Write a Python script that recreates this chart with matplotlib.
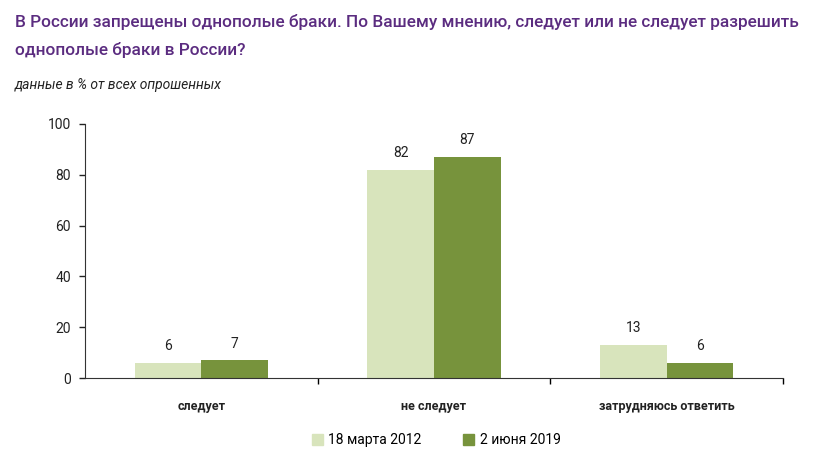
import matplotlib.pyplot as plt
import numpy as np
from matplotlib.patches import Patch

# Data
categories = ['следует', 'не следует', 'затрудняюсь ответить']
series_names = ['18 марта 2012', '2 июня 2019']
values_2012 = [6, 82, 13]
values_2019 = [7, 87, 6]
y_ticks = [0, 20, 40, 60, 80, 100]

light_green = '#d8e4bc'
dark_green = '#77933c'
purple = '#5b2c80'

plt.rcParams['font.family'] = ['Roboto', 'Liberation Sans', 'DejaVu Sans']

fig = plt.figure(figsize=(8.39, 4.75), dpi=100)
ax = fig.add_axes([0.1013, 0.204, 0.832, 0.535])

x = np.arange(len(categories))
width = 0.286
bars1 = ax.bar(x - width / 2, values_2012, width, color=light_green)
bars2 = ax.bar(x + width / 2, values_2019, width, color=dark_green)

# Value labels above bars
for bars in (bars1, bars2):
    for b in bars:
        ax.annotate(str(int(b.get_height())),
                    (b.get_x() + b.get_width() / 2, b.get_height()),
                    xytext=(0, 7), textcoords='offset points',
                    ha='center', va='bottom', fontsize=10, color='#222222')

ax.set_xlim(-0.5, len(categories) - 0.5)
ax.set_ylim(0, 100)
ax.set_yticks(y_ticks)
ax.tick_params(axis='y', labelsize=10, length=4, width=1, colors='#222222', pad=6)

# Category separators as ticks on the x axis, labels as minor ticks
ax.set_xticks(np.arange(len(categories)) + 0.5)
ax.set_xticklabels([])
ax.tick_params(axis='x', which='major', direction='out', length=4, width=1)
ax.set_xticks(x, minor=True)
ax.set_xticklabels(categories, minor=True, fontsize=9, fontweight='bold', color='#222222')
ax.tick_params(axis='x', which='minor', length=0, pad=16)

for side in ('top', 'right'):
    ax.spines[side].set_visible(False)
ax.spines['left'].set_color('#333333')
ax.spines['bottom'].set_color('#333333')

# Title and subtitle
fig.text(0.018, 0.954, 'В России запрещены однополые браки. По Вашему мнению, следует или не следует разрешить',
         fontsize=12.4, fontweight='medium', color=purple, ha='left', va='center')
fig.text(0.018, 0.895, 'однополые браки в России?',
         fontsize=12.4, fontweight='medium', color=purple, ha='left', va='center')
fig.text(0.018, 0.821, 'данные в % от всех опрошенных',
         fontsize=10, style='italic', color='#222222', ha='left', va='center')

handles = [Patch(color=light_green), Patch(color=dark_green)]
fig.legend(handles, series_names, loc='center', bbox_to_anchor=(0.52, 0.073),
           ncol=2, frameon=False, fontsize=10, handlelength=0.8, handleheight=0.8,
           handletextpad=0.4, columnspacing=3.0)

fig.savefig('out.png', dpi=100)
